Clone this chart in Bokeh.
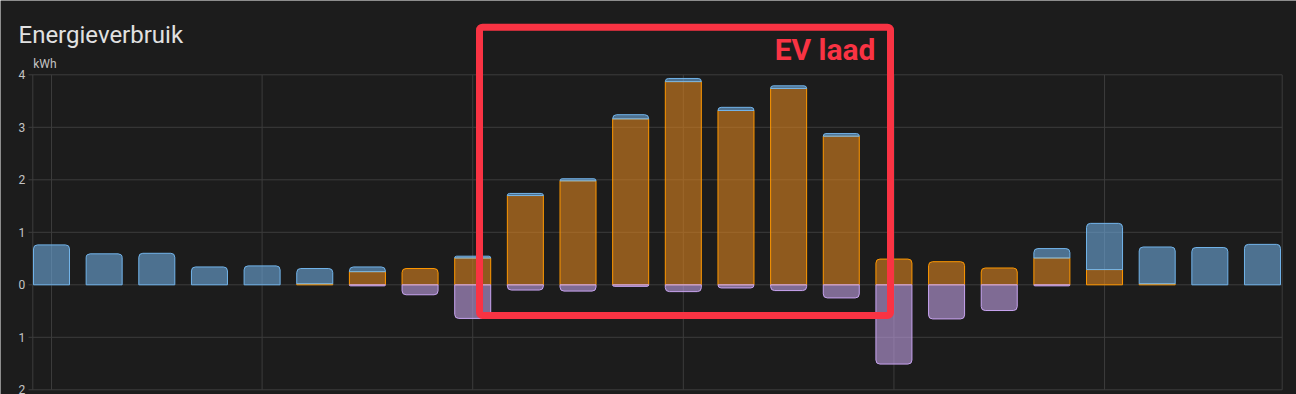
from bokeh.plotting import figure
from bokeh.models import (ColumnDataSource, CDSView, IndexFilter, Range1d, Label, BoxAnnotation)
from bokeh.core.properties import value
from bokeh.embed import file_html
from bokeh.resources import INLINE

# ---- data (kWh per hour) ----
hours = list(range(24))
solar = [0, 0, 0, 0, 0, 0.02, 0.25, 0.31, 0.51, 1.70, 1.98, 3.16, 3.87, 3.32, 3.74, 2.83,
         0.49, 0.44, 0.32, 0.51, 0.29, 0.02, 0, 0]
grid = [0.76, 0.59, 0.60, 0.34, 0.36, 0.29, 0.09, 0, 0.035, 0.04, 0.04, 0.08, 0.06, 0.06, 0.05, 0.05,
        0, 0, 0, 0.18, 0.88, 0.70, 0.71, 0.77]
returned = [0, 0, 0, 0, 0, 0, 0.02, 0.19, 0.64, 0.10, 0.12, 0.03, 0.13, 0.06, 0.11, 0.25,
            1.51, 0.65, 0.49, 0.02, 0, 0, 0, 0]
y_ticks = [-2, -1, 0, 1, 2, 3, 4]
y_tick_labels = ["2", "1", "0", "1", "2", "3", "4"]
x_grid_hours = [0, 4, 8, 12, 16, 20]

BG = "#1c1c1c"
GRID = "#3c3c3c"
TXT = "#c4c4c4"

# plot-area bounds in data units (frame spans whole canvas, axes drawn as glyphs)
X_LEFT, X_RIGHT = -0.355, 23.374
Y_MIN, Y_MAX = min(y_ticks), max(y_ticks)
TICK_END = -0.437
LABEL_X = -0.50

p = figure(width=1296, height=394, output_backend="svg", toolbar_location=None,
           x_range=Range1d(-0.9686, 23.646), y_range=Range1d(-2.0895, 5.415),
           min_border=0, min_border_left=0, min_border_right=0, min_border_top=0, min_border_bottom=0)
p.background_fill_color = BG
p.border_fill_color = BG
p.outline_line_color = None
p.xaxis.visible = False
p.yaxis.visible = False
p.xgrid.visible = False
p.ygrid.visible = False

# grid / frame lines
hsrc = ColumnDataSource(dict(x0=[TICK_END] * len(y_ticks), x1=[X_RIGHT] * len(y_ticks), y=y_ticks))
p.segment(x0="x0", y0="y", x1="x1", y1="y", source=hsrc, line_color=GRID, line_width=1)
vx = x_grid_hours + [X_LEFT, X_RIGHT]
vsrc = ColumnDataSource(dict(x=vx, y0=[Y_MIN] * len(vx), y1=[Y_MAX] * len(vx)))
p.segment(x0="x", y0="y0", x1="x", y1="y1", source=vsrc, line_color=GRID, line_width=1)

# y tick labels
tsrc = ColumnDataSource(dict(x=[LABEL_X] * len(y_ticks), y=y_ticks, t=y_tick_labels))
p.text(x="x", y="y", text="t", source=tsrc, text_align="right", text_baseline="middle",
       text_font=value("Roboto"), text_font_size="12px", text_color=TXT)

src = ColumnDataSource(dict(
    x=hours,
    s_top=solar,
    g_bottom=solar,
    g_top=[s + g for s, g in zip(solar, grid)],
    r_bottom=[-r for r in returned],
    zero=[0] * len(hours),
))

W = 0.684
solar_top_idx = [i for i in hours if solar[i] > 0 and grid[i] == 0]
solar_in_idx = [i for i in hours if solar[i] > 0 and grid[i] > 0]
grid_idx = [i for i in hours if grid[i] > 0]
ret_idx = [i for i in hours if returned[i] > 0]

ORANGE_F, ORANGE_L = "#dc831f", "#ff9800"
BLUE_F, BLUE_L = "#6eaadd", "#72b4ea"
PURP_F, PURP_L = "#c1a0e4", "#c8a4f0"
A = 0.6
R = 4

p.vbar(x="x", width=W, bottom="zero", top="s_top", source=src, view=CDSView(filter=IndexFilter(solar_in_idx)),
       fill_color=ORANGE_F, fill_alpha=A, line_color=ORANGE_L, line_width=1)
p.vbar(x="x", width=W, bottom="zero", top="s_top", source=src, view=CDSView(filter=IndexFilter(solar_top_idx)),
       fill_color=ORANGE_F, fill_alpha=A, line_color=ORANGE_L, line_width=1, border_radius=(R, R, 0, 0))
p.vbar(x="x", width=W, bottom="g_bottom", top="g_top", source=src, view=CDSView(filter=IndexFilter(grid_idx)),
       fill_color=BLUE_F, fill_alpha=A, line_color=BLUE_L, line_width=1, border_radius=(R, R, 0, 0))
p.vbar(x="x", width=W, bottom="r_bottom", top="zero", source=src, view=CDSView(filter=IndexFilter(ret_idx)),
       fill_color=PURP_F, fill_alpha=A, line_color=PURP_L, line_width=1, border_radius=(0, 0, R, R))

# texts
p.add_layout(Label(x=-0.627, y=4.763, text="Energieverbruik", text_font="Roboto", text_font_size="24px",
                   text_color="#e1e1e1", text_baseline="alphabetic"))
p.add_layout(Label(x=-0.348, y=4.20, text="kWh", text_font="Roboto", text_font_size="12px",
                   text_color=TXT, text_baseline="alphabetic"))

# red highlight
RED = "#f93343"
p.add_layout(BoxAnnotation(left=8.129, right=15.935, top=4.907, bottom=-0.585, fill_color=None, fill_alpha=0,
                           line_color=RED, line_alpha=1.0, line_width=7, border_radius=3))
p.add_layout(Label(x=15.65, y=4.476, text="EV laad", text_font="Roboto", text_font_size="30px",
                   text_font_style="bold", text_color=RED, text_align="right", text_baseline="alphabetic"))

open("out.html", "w").write(file_html(p, INLINE))
